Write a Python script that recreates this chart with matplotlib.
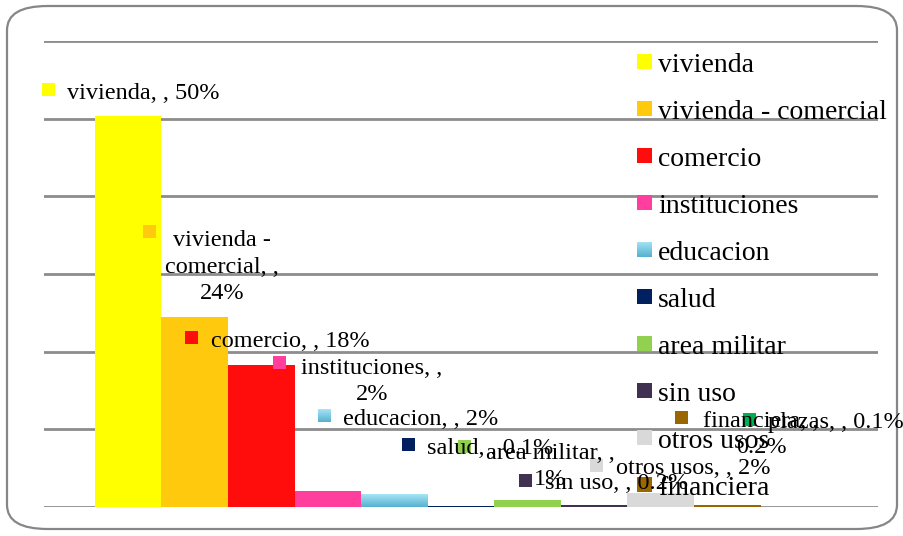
import numpy as np
import matplotlib
matplotlib.use("Agg")
import matplotlib.pyplot as plt
from matplotlib.colors import LinearSegmentedColormap
from matplotlib.patches import FancyBboxPatch, Rectangle

W, H = 904, 536

categorias = ["vivienda", "vivienda - comercial", "comercio", "instituciones",
              "educacion", "salud", "area militar", "sin uso", "otros usos",
              "financiera", "plazas"]
valores = [0.504, 0.245, 0.183, 0.021, 0.016, 0.001, 0.009, 0.002, 0.018, 0.002, 0.0004]
etiquetas = ["vivienda, , 50%", "vivienda -\ncomercial, ,\n24%", "comercio, , 18%",
             "instituciones, ,\n2%", "educacion, , 2%", "salud, , 0.1%",
             "area militar, ,\n1%", "sin uso, , 0.2%", "otros usos, , 2%",
             "financiera, ,\n0.2%", "plazas, , 0.1%"]
colores = ["#FFFF00", "#FFC90E", "#FF0D0D", "#FF3E9E", "#8FD6F0", "#002060",
           "#92D050", "#403151", "#D9D9D9", "#996600", "#00B050"]

# label placement in pixels from top-left:
# marker x, marker top, text x, baseline of last text line, alignment
pos_etiquetas = [(42, 83, 67, 99, "left"), (143, 225, 222, 299, "center"),
                 (185, 331, 211, 347, "left"), (273, 356, 372, 400, "center"),
                 (318, 409, 343, 425, "left"), (402, 438, 427, 454, "left"),
                 (458, 440, 550, 485, "center"), (519, 474, 545, 489, "left"),
                 (590, 459, 616, 474, "left"), (675, 411, 761, 453, "center"),
                 (743, 413, 768, 428, "left")]

plt.rcParams["font.family"] = ["Liberation Serif", "DejaVu Serif"]
FS_ETQ = 17.5
FS_LEY = 20

# educacion is drawn with a light-to-dark blue fill
grad_edu = LinearSegmentedColormap.from_list("edu", ["#56B2CF", "#A6E3F7"])


def px(x, y):
    return x / W, 1 - y / H


def cuadro(x0, y0, lado, color, nombre):
    if nombre == "educacion":
        a = fig.add_axes([x0 / W, 1 - (y0 + lado) / H, lado / W, lado / H])
        a.imshow(np.linspace(0, 1, 20)[:, None], cmap=grad_edu, origin="lower",
                 aspect="auto")
        a.axis("off")
        a.set_zorder(5)
    else:
        fig.add_artist(Rectangle(px(x0, y0 + lado), lado / W, lado / H,
                                 transform=fig.transFigure, facecolor=color,
                                 edgecolor="none", zorder=5))


fig = plt.figure(figsize=(W / 100, H / 100), dpi=100)
fig.patch.set_facecolor("white")

# rounded chart border
borde = FancyBboxPatch(px(7, 529), (W - 14) / W, (529 - 6) / H,
                       boxstyle="round,pad=0,rounding_size=0.045",
                       transform=fig.transFigure, fill=False,
                       edgecolor="#868686", linewidth=1.6)
fig.add_artist(borde)

ax = fig.add_axes([44 / W, 1 - 507 / H, (878 - 44) / W, (507 - 41) / H])
ax.set_ylim(0, 0.6)
ax.set_xlim(-0.5 - 0.765, len(valores) - 0.5 + 0.765)
for s in ax.spines.values():
    s.set_visible(False)
ax.set_xticks([])
ax.set_yticks(np.arange(0, 0.61, 0.1))
ax.tick_params(left=False, labelleft=False)
ax.yaxis.grid(True, color="#8C8C8C", linewidth=2)
ax.set_axisbelow(True)
ax.patch.set_alpha(0)

x = np.arange(len(valores))
barras = ax.bar(x, valores, width=1.0, color=colores, edgecolor="none", zorder=2)

# gradient fill for the educacion bar
i_edu = categorias.index("educacion")
b = barras[i_edu]
ax.imshow(np.linspace(0, 1, 20)[:, None], cmap=grad_edu, origin="lower", aspect="auto",
          extent=(b.get_x(), b.get_x() + b.get_width(), 0, b.get_height()), zorder=3)
ax.set_xlim(-0.5 - 0.765, len(valores) - 0.5 + 0.765)
ax.set_ylim(0, 0.6)

# data labels with key squares
for (mx, my, tx, by, ha), txt, c, nombre in zip(pos_etiquetas, etiquetas, colores, categorias):
    cuadro(mx, my, 13, c, nombre)
    fig.text(*px(tx, by), txt, ha=ha, va="baseline", fontsize=FS_ETQ,
             linespacing=1.33, zorder=6, multialignment="center")

# legend (runs off the bottom, plazas gets cut)
for i, (nombre, c) in enumerate(zip(categorias[:10], colores[:10])):
    by = 72 + i * 47
    cuadro(637, by - 18, 15, c, nombre)
    fig.text(*px(658, by), nombre, ha="left", va="baseline", fontsize=FS_LEY, zorder=6)

fig.savefig("out.png", dpi=100, facecolor="white")
